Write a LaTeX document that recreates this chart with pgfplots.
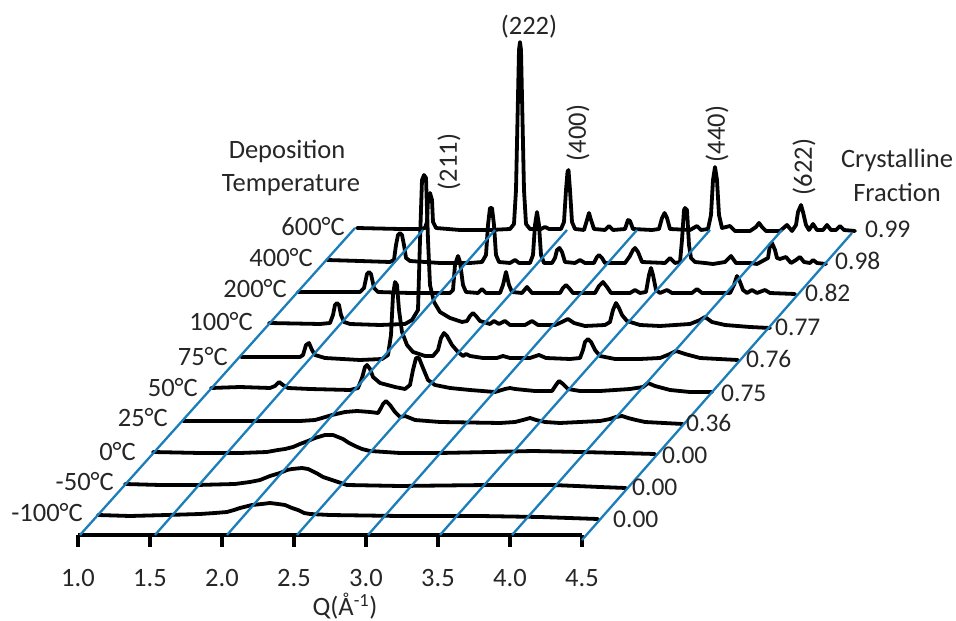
\documentclass[border=0pt]{standalone}
\usepackage{pgfplots}
\usepackage{pgfplotstable}
\usepackage{fontspec}
\setmainfont{Carlito}
\pgfplotsset{compat=1.18}
\definecolor{gridblue}{HTML}{1B7DB9}
\definecolor{txt}{HTML}{262626}
\pgfplotstableread[row sep=crcr]{x y\\357 228\\400 229\\420 229\\425 228\\427 222\\428 200\\430 193\\432 200\\433 222\\436 228\\460 230\\490 230\\510 229\\514 224\\516 190\\517.5 120\\519 50\\520 42\\521 50\\522.5 120\\524 190\\526 224\\530 229\\541 229\\545 227\\549 229\\561 229\\564 222\\566 190\\567.5 172\\568.5 170\\570 190\\572 222\\575 229\\584 230\\587 220\\589 213\\591 220\\594 229\\605 230\\609 226\\613 230\\625 229\\628 220\\630 221\\633 229\\652 230\\659 229\\662 218\\664.5 213\\667 218\\670 229\\690 230\\697 226\\701 230\\708 229\\711 215\\713 180\\715 167\\717 180\\719 215\\722 228\\730 226\\735 231\\750 231\\756 227\\759 223\\762 227\\766 231\\780 231\\787 225\\792 231\\796 225\\798 212\\801 205\\803 212\\806 225\\809 230\\813 224\\817 230\\823 230\\827 225\\831 230\\836 230\\840 226\\844 230\\855 231\\}\tSix
\pgfplotstableread[row sep=crcr]{x y\\327 260\\360 261\\390 262\\394 260\\396 245\\398 235\\400 233\\402 235\\404 245\\406 258\\410 261\\440 263\\470 263\\482 262\\486 255\\488 225\\490 208\\492 208\\494 225\\496 255\\499 262\\510 263\\515 260\\519 263\\530 263\\533 255\\535 225\\537 212\\539 225\\541 255\\544 263\\552 263\\555 258\\557 250\\559.5 248\\562 252\\565 262\\575 263\\580 260\\585 263\\594 263\\597 257\\599 255\\602 258\\605 263\\625 263\\630 256\\633 250\\635 248\\638 252\\642 262\\665 263\\670 258\\675 263\\680 262\\682 240\\684 210\\685 208\\687 210\\689 245\\691 258\\695 262\\705 263\\713 264\\725 262\\731 256\\736 263\\750 263\\757 264\\768 258\\770 245\\772 243\\775 250\\777 258\\780 259\\786 257\\791 263\\796 260\\800 257\\804 262\\810 263\\813 260\\817 263\\826 264\\}\tFour
\pgfplotstableread[row sep=crcr]{x y\\298 292\\340 292\\360 292\\364 288\\367 274\\369 272\\371 274\\374 288\\378 292\\410 293\\450 293\\453 290\\455 265\\458 256\\460 262\\463 285\\466 292\\478 293\\482 289\\486 293\\500 293\\503 285\\506 272\\509 285\\512 292\\522 293\\527 287\\532 293\\560 293\\563 288\\566 285\\569 288\\573 293\\595 293\\599 286\\603 282\\607 287\\611 293\\630 293\\635 290\\640 293\\646 292\\649 275\\651 268\\653 275\\656 290\\660 293\\667 290\\672 293\\692 293\\697 289\\702 293\\730 293\\734 285\\737 276\\740 282\\743 290\\747 293\\752 290\\757 293\\765 290\\770 293\\795 294\\}\tTwo
\pgfplotstableread[row sep=crcr]{x y\\269 323\\320 324\\330 323\\333 315\\335 305\\337 303\\339 305\\341 315\\344 322\\350 324\\380 325\\405 324\\412 320\\418 310\\420 240\\422 180\\424 175\\426 178\\428 240\\430 285\\434 302\\440 312\\450 318\\462 322\\467 321\\470 316\\473 313\\476 316\\480 321\\490 324\\494 321\\499 324\\505 321\\510 325\\525 325\\532 321\\538 325\\555 325\\562 322\\568 319\\574 323\\585 326\\605 325\\610 322\\613 310\\616 303\\619 308\\622 315\\627 321\\640 325\\660 326\\690 324\\700 320\\705 317\\712 322\\725 325\\750 327\\770 328\\}\tOne
\pgfplotstableread[row sep=crcr]{x y\\241 357\\280 357\\300 357\\303 355\\306 345\\309 343\\312 350\\315 355\\325 358\\360 360\\382 359\\388 355\\391 335\\393 295\\395 282\\397 285\\399 310\\402 332\\407 345\\413 352\\425 356\\433 356\\438 350\\441 338\\444 333\\447 336\\452 345\\458 352\\463 356\\466 354\\470 356\\483 358\\497 358\\503 356\\510 358\\530 358\\539 355\\546 358\\570 359\\580 358\\583 350\\585 342\\588 339\\591 342\\595 350\\600 356\\615 359\\640 359\\660 358\\670 354\\676 351\\685 354\\700 358\\738 360\\}\tSevenFive
\pgfplotstableread[row sep=crcr]{x y\\211 388\\240 387\\270 388\\275 386\\279 382\\283 385\\288 388\\310 389\\350 390\\358 388\\362 378\\365 367\\367 365\\370 369\\373 377\\380 383\\395 387\\405 389\\410 385\\413 370\\416 358\\419 358\\423 368\\428 380\\435 385\\450 388\\470 390\\495 392\\505 389\\510 388\\515 389\\535 391\\552 391\\556 385\\559 381\\563 384\\568 389\\580 391\\600 391\\630 389\\643 387\\648 383\\655 386\\670 390\\690 392\\712 392\\}\tFifty
\pgfplotstableread[row sep=crcr]{x y\\183 421\\240 421\\300 421\\315 420\\322 418\\332 415\\345 412\\357 411\\370 412\\378 413\\381 408\\383 404\\386 401\\390 405\\395 412\\400 417\\405 416\\415 420\\440 422\\500 423\\515 422\\523 420\\530 418\\536 420\\545 422\\560 423\\600 421\\610 419\\616 417\\622 416\\628 418\\636 420\\645 422\\683 424\\}\tTwentyFive
\pgfplotstableread[row sep=crcr]{x y\\153 452\\200 453\\240 453\\267 452\\278 450\\285 449\\293 447\\300 444\\308 441\\315 438\\325 435\\333 435\\338 437\\343 439\\349 443\\355 446\\362 449\\370 451\\385 452\\400 453\\440 453\\490 452\\533 451\\580 452\\620 453\\655 454\\}\tZero
\pgfplotstableread[row sep=crcr]{x y\\125 484\\160 485\\197 485\\235 484\\250 482\\260 480\\270 476\\280 473\\287 470\\292 469\\302 468\\308 469\\312 471\\318 474\\323 477\\329 479\\335 481\\347 485\\400 486\\487 485\\553 485\\600 487\\626 488\\}\tMinusFifty
\pgfplotstableread[row sep=crcr]{x y\\98 515\\130 516\\167 515\\200 514\\215 513\\227 512\\234 510\\240 508\\252 505\\262 504\\270 503\\278 504\\285 505\\292 508\\298 510\\304 513\\310 514\\330 515\\400 516\\480 516\\540 517\\598 519\\}\tMinusHundred
\pgfplotstableread[row sep=crcr]{x y\\80 535\\355 228\\}\bA
\pgfplotstableread[row sep=crcr]{x y\\155 535\\423 230\\}\bB
\pgfplotstableread[row sep=crcr]{x y\\227 535\\495 230\\}\bC
\pgfplotstableread[row sep=crcr]{x y\\297 535\\567 230\\}\bD
\pgfplotstableread[row sep=crcr]{x y\\368 535\\637 230\\}\bE
\pgfplotstableread[row sep=crcr]{x y\\440 535\\710 230\\}\bF
\pgfplotstableread[row sep=crcr]{x y\\512 535\\782 230\\}\bG
\pgfplotstableread[row sep=crcr]{x y\\582 540\\852 233\\}\bH
\newcommand\tr[1]{\addplot[black,line width=3.8pt,line join=round,line cap=round] table[x expr=1+(\thisrow{x}-78)/144,y expr=535-\thisrow{y}] {#1};}
\newcommand\bl[1]{\addplot[gridblue,line width=2.3pt] table[x expr=1+(\thisrow{x}-78)/144,y expr=535-\thisrow{y}] {#1};}
\begin{document}
\begin{tikzpicture}[x=1pt,y=1pt]
\useasboundingbox (0,0) rectangle (956,621);
\begin{axis}[at={(78pt,86pt)},anchor=south west,scale only axis,width=504pt,height=400pt,
 xmin=1,xmax=4.5,ymin=0,ymax=400,clip=false,
 axis x line=bottom,axis y line=none,
 x axis line style={-,line width=3.6pt,black},
 xtick={1,1.5,2,2.5,3,3.5,4,4.5},
 xticklabels={1.0,1.5,2.0,2.5,3.0,3.5,4.0,4.5},
 tick align=outside,major tick length=12pt,
 every tick/.style={black,line width=3.4pt},
 xticklabel style={font=\fontsize{26.5}{30}\selectfont,text=txt,yshift=-19pt},
 /pgf/number format/assume math mode=true]
\tr{\tSix}\tr{\tFour}\tr{\tTwo}\tr{\tOne}\tr{\tSevenFive}\tr{\tFifty}\tr{\tTwentyFive}\tr{\tZero}\tr{\tMinusFifty}\tr{\tMinusHundred}
\bl{\bA}\bl{\bB}\bl{\bC}\bl{\bD}\bl{\bE}\bl{\bF}\bl{\bG}\bl{\bH}
\end{axis}
\tikzset{lab/.style={font=\fontsize{26.5}{30}\selectfont,text=txt,inner sep=0pt},
 num/.style={font=\fontsize{25.5}{30}\selectfont,text=txt,inner sep=0pt,anchor=west}}
\node[lab,anchor=east] at (83,108) {-100°C};
\node[lab,anchor=east] at (114,139) {-50°C};
\node[lab,anchor=east] at (136,169) {0°C};
\node[lab,anchor=east] at (168,203) {25°C};
\node[lab,anchor=east] at (198,233) {50°C};
\node[lab,anchor=east] at (228,264) {75°C};
\node[lab,anchor=east] at (253,299) {100°C};
\node[lab,anchor=east] at (287,332) {200°C};
\node[lab,anchor=east] at (313,363) {400°C};
\node[lab,anchor=east] at (345,394) {600°C};
\node[num] at (865,392) {0.99};
\node[num] at (835,360) {0.98};
\node[num] at (805,328) {0.82};
\node[num] at (775,294) {0.77};
\node[num] at (746,262) {0.76};
\node[num] at (721,228) {0.75};
\node[num] at (686,198) {0.36};
\node[num] at (662,166) {0.00};
\node[num] at (632,134) {0.00};
\node[num] at (613,102) {0.00};
\node[lab] at (287,470) {Deposition};
\node[lab] at (291,436) {Temperature};
\node[lab] at (897,461) {Crystalline};
\node[lab] at (897,429) {Fraction};
\node[lab] at (529,594) {(222)};
\node[lab,rotate=90] at (449,459) {(211)};
\node[lab,rotate=90] at (578,488) {(400)};
\node[lab,rotate=90] at (717,487) {(440)};
\node[lab,rotate=90] at (804,454) {(622)};
\node[lab] at (345,15) {Q(Å\textsuperscript{-1})};
\end{tikzpicture}
\end{document}
